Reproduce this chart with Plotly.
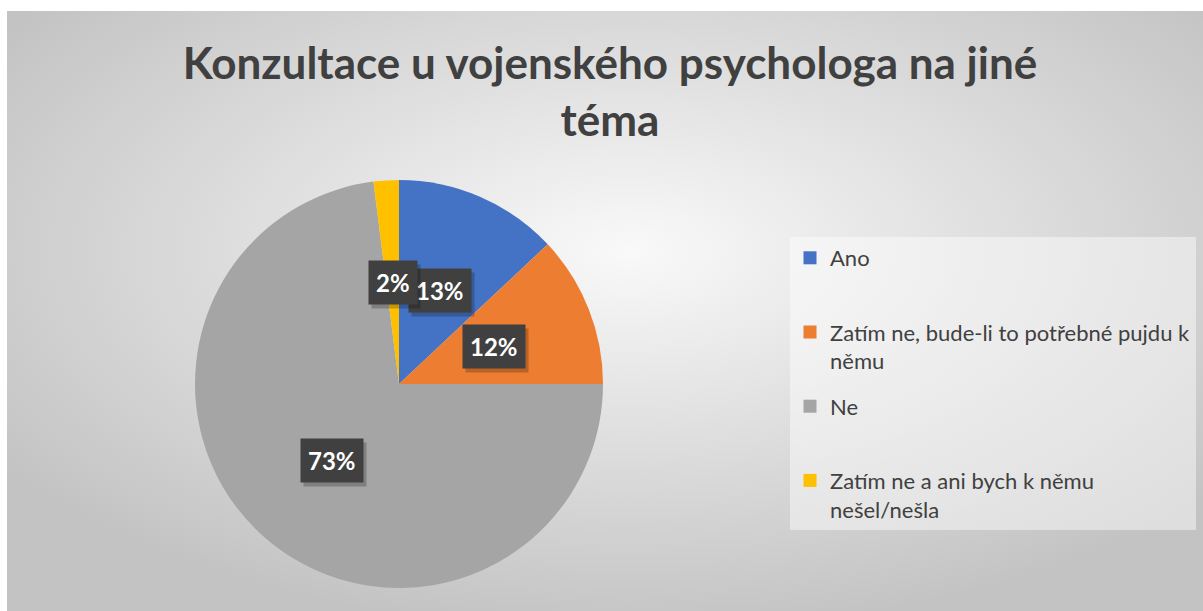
import math
import base64
import plotly.graph_objects as go

# ---- data ----
categories = [
    "Ano",
    "Zatím ne, bude-li to potřebné pujdu k němu",
    "Ne",
    "Zatím ne a ani bych k němu nešel/nešla",
]
values = [13, 12, 73, 2]
colors = ["#4472C4", "#ED7D31", "#A5A5A5", "#FFC000"]
title_text = "Konzultace u vojenského psychologa na jiné<br>téma"

# legend display labels (wrapped like the original, equal two-line slots)
legend_labels = [
    "Ano<br> ",
    "Zatím ne, bude-li to potřebné pujdu k<br>němu",
    "Ne<br> ",
    "Zatím ne a ani bych k němu<br>nešel/nešla",
]

W, H = 1203, 611
# pie geometry (pixels)
cx_px, cy_px, R_px = 399, 384, 204
dom_x = [(cx_px - R_px) / W, (cx_px + R_px) / W]
dom_y = [(H - cy_px - R_px) / H, (H - cy_px + R_px) / H]

fig = go.Figure()
fig.add_trace(go.Pie(
    labels=categories,
    values=values,
    sort=False,
    direction="clockwise",
    rotation=0,
    marker=dict(colors=colors, line=dict(width=0)),
    textinfo="none",
    hoverinfo="label+percent",
    domain=dict(x=dom_x, y=dom_y),
    showlegend=False,
))

# legend entries (one per category, same colours as the slices)
for i, (lab, col) in enumerate(zip(legend_labels, colors)):
    fig.add_trace(go.Scatter(
        x=[None], y=[None], mode="markers", name=lab,
        marker=dict(symbol="square", size=13, color=col),
        legendgroup=f"g{i}", showlegend=True, hoverinfo="skip",
    ))

# background radial gradient (chart area), as an SVG image
svg = (
    '<svg xmlns="http://www.w3.org/2000/svg" width="1196" height="600" viewBox="0 0 1196 600" preserveAspectRatio="none">'
    '<defs><radialGradient id="g" cx="52%" cy="40%" r="64%" gradientUnits="objectBoundingBox">'
    '<stop offset="0%" stop-color="#f9f9f9"/><stop offset="100%" stop-color="#c3c3c3"/>'
    '</radialGradient></defs><rect width="1196" height="600" fill="url(#g)"/></svg>'
)
src = "data:image/svg+xml;base64," + base64.b64encode(svg.encode()).decode()

# data labels: dark boxes placed at half radius along each slice's mid-angle
annotations = []
total = sum(values)
cum = 0
for v in values:
    mid = (cum + v / 2) / total * 2 * math.pi
    cum += v
    r = 0.5 * R_px
    px = cx_px + r * math.sin(mid)
    py = cy_px - r * math.cos(mid)
    ax = px / W
    ay = 1 - py / H
    txt = f"{round(v / total * 100)}%"
    common = dict(x=ax, y=ay, xref="paper", yref="paper", showarrow=False,
                  xanchor="center", yanchor="middle", borderpad=7)
    annotations.append(dict(
        text=f"<b>{txt}</b>",
        font=dict(family="Lato", size=24, color="rgba(0,0,0,0)"),
        bgcolor="rgba(0,0,0,0.22)", xshift=3, yshift=-4, **common,
    ))
    annotations.append(dict(
        text=f"<b>{txt}</b>",
        font=dict(family="Lato", size=24, color="white"),
        bgcolor="#404040", **common,
    ))

fig.update_layout(
    width=W, height=H,
    margin=dict(l=0, r=0, t=0, b=0),
    paper_bgcolor="white",
    plot_bgcolor="rgba(0,0,0,0)",
    xaxis=dict(visible=False, domain=[0.0, 0.01]),
    yaxis=dict(visible=False, domain=[0.0, 0.01]),
    images=[dict(source=src, xref="paper", yref="paper", x=7 / W, y=1 - 11 / H,
                 sizex=(W - 7) / W, sizey=(H - 11) / H, sizing="stretch",
                 xanchor="left", yanchor="top", layer="below")],
    title=dict(
        text=f"<b>{title_text}</b>",
        x=610 / W, xanchor="center", xref="paper",
        y=1 - 79 / H, yanchor="top", yref="container",
        font=dict(family="Lato", size=44, color="#404040"),
    ),
    legend=dict(
        x=790 / W, y=1 - 237 / H, xanchor="left", yanchor="top",
        bgcolor="rgba(255,255,255,0.45)",
        font=dict(family="Lato", size=22, color="#404040"),
        valign="top",
        tracegroupgap=14,
        itemclick=False, itemdoubleclick=False,
    ),
    annotations=annotations,
    showlegend=True,
)

fig.write_html("out.html", config={"displayModeBar": False},
               post_script="document.body.style.margin='0';document.body.style.overflow='hidden';")
